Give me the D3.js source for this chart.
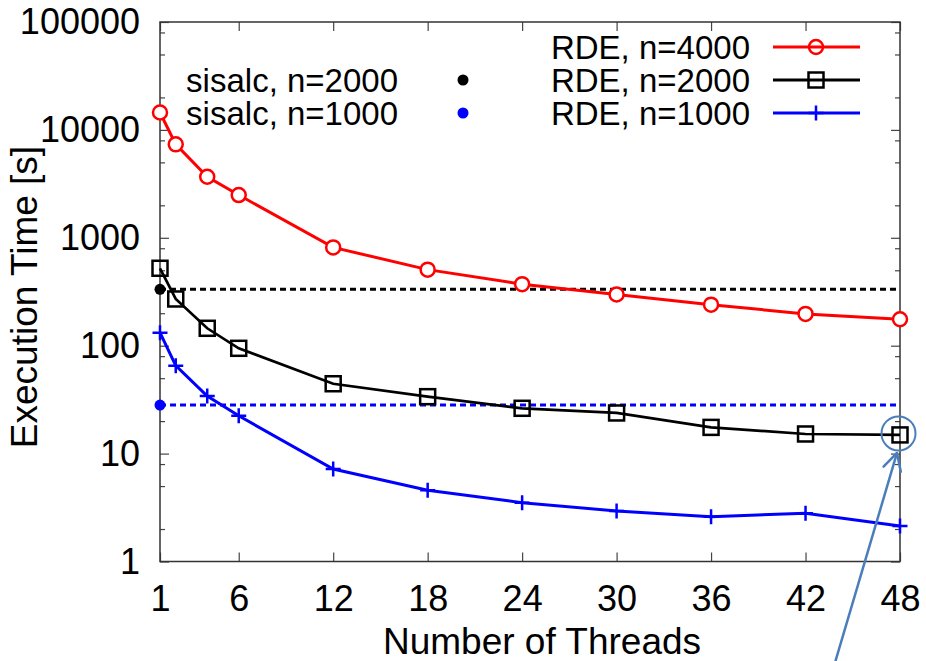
<!DOCTYPE html>
<html lang="en">
<head>
<meta charset="utf-8">
<title>Execution Time vs Threads</title>
<script src="https://d3js.org/d3.v7.min.js"></script>
<style>
  body { margin: 0; background: #fff; }
  svg text { font-family: "Liberation Sans", Arial, Helvetica, sans-serif; fill: #000; }
</style>
</head>
<body>
<div id="chart"></div>
<script>
// data
var threads = [1, 2, 4, 6, 12, 18, 24, 30, 36, 42, 48];
var rde4000 = [14500, 7350, 3680, 2490, 815, 507, 372, 298, 240, 197, 176];
var rde2000 = [522, 271, 145, 94.6, 44.4, 33.7, 26.3, 23.8, 17.5, 15.2, 14.9];
var rde1000 = [132, 65.3, 34.2, 22.4, 7.2, 4.57, 3.51, 2.94, 2.6, 2.8, 2.13];
var sisalc2000 = 333;
var sisalc1000 = 28.2;
var xTicks = [1, 6, 12, 18, 24, 30, 36, 42, 48];
var yTicks = [1, 10, 100, 1000, 10000, 100000];
var yMinorSteps = [2, 5, 8];

var width = 926, height = 661;
var tickFont = 36, titleFont = 37, legendFont = 33;

var svg = d3.select("#chart").append("svg")
  .attr("width", width)
  .attr("height", height);

var x = d3.scaleLinear().domain([1, 48]).range([160, 900]);
var y = d3.scaleLog().domain([1, 100000]).range([561.5, 22]);

var yMinor = [];
yTicks.slice(0, -1).forEach(function(d) {
  yMinorSteps.forEach(function(m) { yMinor.push(d * m); });
});

// minor ticks left / right
svg.append("g")
  .attr("transform", "translate(" + x.range()[0] + ",0)")
  .call(d3.axisLeft(y).tickValues(yMinor).tickSize(-5).tickFormat(""));
svg.append("g")
  .attr("transform", "translate(" + x.range()[1] + ",0)")
  .call(d3.axisRight(y).tickValues(yMinor).tickSize(-5).tickFormat(""));

// major ticks
svg.append("g")
  .attr("transform", "translate(" + x.range()[0] + ",0)")
  .call(d3.axisLeft(y).tickValues(yTicks).tickSize(-9).tickPadding(20).tickFormat(d3.format("d")));
svg.append("g")
  .attr("transform", "translate(" + x.range()[1] + ",0)")
  .call(d3.axisRight(y).tickValues(yTicks).tickSize(-9).tickFormat(""));

svg.append("g")
  .attr("transform", "translate(0," + y.range()[0] + ")")
  .call(d3.axisBottom(x).tickValues(xTicks).tickSize(-9).tickPadding(23.5));
svg.append("g")
  .attr("transform", "translate(0," + y.range()[1] + ")")
  .call(d3.axisTop(x).tickValues(xTicks).tickSize(-9).tickFormat(""));

svg.selectAll(".domain").remove();
svg.selectAll(".tick line").attr("stroke", "#444").attr("stroke-width", 1.2);
svg.selectAll(".tick text").style("font-size", tickFont + "px");

// frame
svg.append("rect")
  .attr("x", x.range()[0]).attr("y", y.range()[1])
  .attr("width", x.range()[1] - x.range()[0])
  .attr("height", y.range()[0] - y.range()[1])
  .attr("fill", "none").attr("stroke", "#333").attr("stroke-width", 1.5);

// axis titles
svg.append("text")
  .attr("x", 542).attr("y", 654)
  .attr("text-anchor", "middle")
  .style("font-size", titleFont + "px")
  .text("Number of Threads");
svg.append("text")
  .attr("transform", "translate(37,297) rotate(-90)")
  .attr("text-anchor", "middle")
  .style("font-size", titleFont + "px")
  .text("Execution Time [s]");

// sisalc reference lines
var refs = [
  {label: "sisalc, n=2000", value: sisalc2000, color: "#000"},
  {label: "sisalc, n=1000", value: sisalc1000, color: "#0000ff"}
];
refs.forEach(function(r) {
  svg.append("line")
    .attr("x1", x(1)).attr("x2", x(48))
    .attr("y1", y(r.value)).attr("y2", y(r.value))
    .attr("stroke", r.color).attr("stroke-width", 3)
    .attr("stroke-dasharray", "6,4");
  svg.append("circle")
    .attr("cx", x(1)).attr("cy", y(r.value)).attr("r", 5.5)
    .attr("fill", r.color);
});

var series = [
  {label: "RDE, n=4000", values: rde4000, color: "#ff0000", marker: "circle"},
  {label: "RDE, n=2000", values: rde2000, color: "#000000", marker: "square"},
  {label: "RDE, n=1000", values: rde1000, color: "#0000ff", marker: "plus"}
];

var line = d3.line()
  .x(function(d) { return x(d[0]); })
  .y(function(d) { return y(d[1]); });

function drawMarker(g, type, cx, cy, color) {
  if (type === "circle") {
    g.append("circle").attr("cx", cx).attr("cy", cy).attr("r", 7)
      .attr("fill", "#fff").attr("stroke", color).attr("stroke-width", 2.5);
  } else if (type === "square") {
    g.append("rect").attr("x", cx - 7.5).attr("y", cy - 7.5)
      .attr("width", 15).attr("height", 15)
      .attr("fill", "none").attr("stroke", color).attr("stroke-width", 2.5);
  } else {
    g.append("path")
      .attr("d", "M" + (cx - 7.5) + "," + cy + "H" + (cx + 7.5) + "M" + cx + "," + (cy - 7.5) + "V" + (cy + 7.5))
      .attr("stroke", color).attr("stroke-width", 2.5);
  }
}

series.forEach(function(s) {
  var pts = threads.map(function(t, i) { return [t, s.values[i]]; });
  svg.append("path")
    .datum(pts)
    .attr("d", line)
    .attr("fill", "none")
    .attr("stroke", s.color)
    .attr("stroke-width", s.marker === "square" ? 2.7 : 3);
  var g = svg.append("g");
  pts.forEach(function(p) { drawMarker(g, s.marker, x(p[0]), y(p[1]), s.color); });
});

// legend
var rowY = [47, 80, 113];
series.forEach(function(s, i) {
  svg.append("text")
    .attr("x", 750).attr("y", rowY[i]).attr("dy", "0.35em")
    .attr("text-anchor", "end")
    .style("font-size", legendFont + "px")
    .text(s.label);
  svg.append("line")
    .attr("x1", 773).attr("x2", 860)
    .attr("y1", rowY[i]).attr("y2", rowY[i])
    .attr("stroke", s.color).attr("stroke-width", 3);
  var g = svg.append("g");
  if (s.marker === "circle") {
    g.append("circle").attr("cx", 816).attr("cy", rowY[i]).attr("r", 7)
      .attr("fill", "none").attr("stroke", s.color).attr("stroke-width", 2.5);
  } else {
    drawMarker(g, s.marker, 816, rowY[i], s.color);
  }
});
refs.forEach(function(r, i) {
  svg.append("text")
    .attr("x", 398).attr("y", rowY[i + 1]).attr("dy", "0.35em")
    .attr("text-anchor", "end")
    .style("font-size", legendFont + "px")
    .text(r.label);
  svg.append("circle")
    .attr("cx", 463).attr("cy", rowY[i + 1]).attr("r", 5.5)
    .attr("fill", r.color);
});

// annotation: circle around the last n=2000 point and an arrow pointing to it
var ax = x(48), ay = y(rde2000[rde2000.length - 1]);
var annColor = "#4a7ebb";
svg.append("circle")
  .attr("cx", ax - 1.5).attr("cy", ay - 1.5).attr("r", 17)
  .attr("fill", "none").attr("stroke", annColor).attr("stroke-width", 2);
var tip = [ax - 3, ay + 18], start = [ax - 66, height + 5];
var dx = tip[0] - start[0], dy = tip[1] - start[1], len = Math.sqrt(dx * dx + dy * dy);
var ux = dx / len, uy = dy / len;
var bx = tip[0] - 17 * ux, by = tip[1] - 17 * uy;
svg.append("line")
  .attr("x1", start[0]).attr("y1", start[1]).attr("x2", tip[0]).attr("y2", tip[1])
  .attr("stroke", annColor).attr("stroke-width", 2.5);
svg.append("path")
  .attr("d", "M" + (bx - 9 * uy) + "," + (by + 9 * ux) + "L" + tip[0] + "," + tip[1] + "L" + (bx + 9 * uy) + "," + (by - 9 * ux))
  .attr("fill", "none").attr("stroke", annColor).attr("stroke-width", 2.5)
  .attr("stroke-linecap", "round").attr("stroke-linejoin", "round");
</script>
</body>
</html>
